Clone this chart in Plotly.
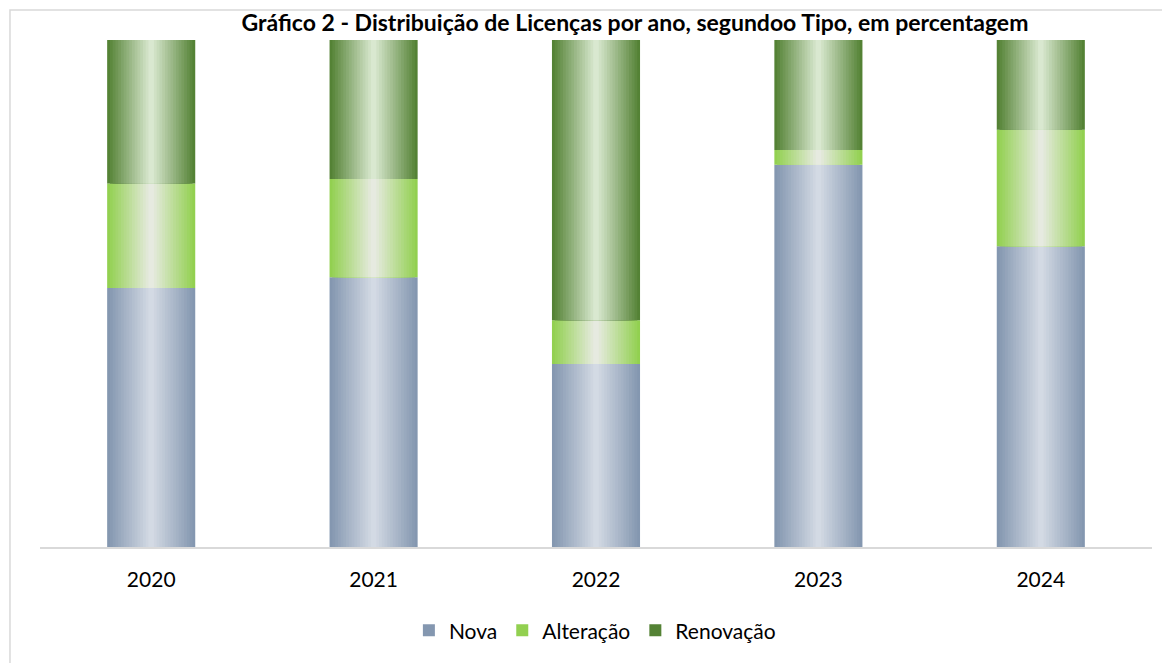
import plotly.graph_objects as go

# ------------------------------------------------------------------
# Data (percent of licences per year, by type)

anos = ["2020", "2021", "2022", "2023", "2024"]
nova = [51.1, 53.2, 36.1, 75.4, 59.3]
alteracao = [20.6, 19.4, 8.6, 2.9, 23.0]
renovacao = [28.3, 27.4, 55.3, 21.7, 17.7]

series_nomes = ["Nova", "Alteração", "Renovação"]
titulo = "Gráfico 2 - Distribuição de Licenças por ano, segundoo Tipo, em percentagem"

# edge colour -> centre colour of the cylinder-like gradient
cores = {
    "Nova": ("#8497b0", "#d8dee7"),
    "Alteração": ("#92d050", "#ececea"),
    "Renovação": ("#548235", "#e2efda"),
}

# ------------------------------------------------------------------
# helpers

def hex_rgb(h):
    h = h.lstrip("#")
    return [int(h[i:i + 2], 16) for i in (0, 2, 4)]


def mix(c1, c2, t):
    a, b = hex_rgb(c1), hex_rgb(c2)
    r = [round(a[i] + (b[i] - a[i]) * t) for i in range(3)]
    return "rgb({},{},{})".format(*r)


bar_w = 0.396
n_steps = 16

valores = {"Nova": nova, "Alteração": alteracao, "Renovação": renovacao}

fig = go.Figure()

base = [0.0] * len(anos)
for nome in series_nomes:
    vals = valores[nome]
    edge, centre = cores[nome]
    for k in range(n_steps):
        t = k / n_steps
        fig.add_trace(go.Bar(
            x=anos,
            y=vals,
            base=base,
            width=bar_w * (1 - t),
            name=nome,
            legendgroup=nome,
            showlegend=(k == 0),
            marker=dict(color=mix(edge, centre, t), line=dict(width=0)),
            hoverinfo="skip" if k else None,
        ))
    base = [b + v for b, v in zip(base, vals)]

# ------------------------------------------------------------------
# layout  (page body has an 8px margin, so the figure is a bit smaller)

W, H = 1162, 655

fig.update_layout(
    width=W,
    height=H,
    barmode="overlay",
    paper_bgcolor="white",
    plot_bgcolor="white",
    margin=dict(l=32, r=18, t=32, b=114),
    font=dict(family="Lato, Open Sans, sans-serif", size=21, color="#000000"),
    title=dict(
        text="<b>" + titulo + "</b>",
        x=(635 - 8) / W, xanchor="center", xref="container",
        y=1 - 15 / H, yanchor="middle", yref="container",
        font=dict(size=23, color="#000000"),
    ),
    legend=dict(
        orientation="h",
        x=0.499, xanchor="center",
        y=-0.165, yanchor="middle",
        font=dict(size=21),
        traceorder="normal",
        itemwidth=30,
    ),
    showlegend=True,
    xaxis=dict(
        type="category",
        showline=True,
        linecolor="#d9d9d9",
        linewidth=2,
        showgrid=False,
        ticks="",
        ticklabelstandoff=13,
        tickfont=dict(size=21),
    ),
    yaxis=dict(range=[0, 100], visible=False),
    shapes=[dict(
        type="rect", xref="paper", yref="paper",
        x0=-0.027, x1=1.03, y0=-0.25, y1=1.059,
        line=dict(color="#d9d9d9", width=1.5),
        fillcolor="rgba(0,0,0,0)",
        layer="below",
    )],
)

fig.write_html("out.html")
